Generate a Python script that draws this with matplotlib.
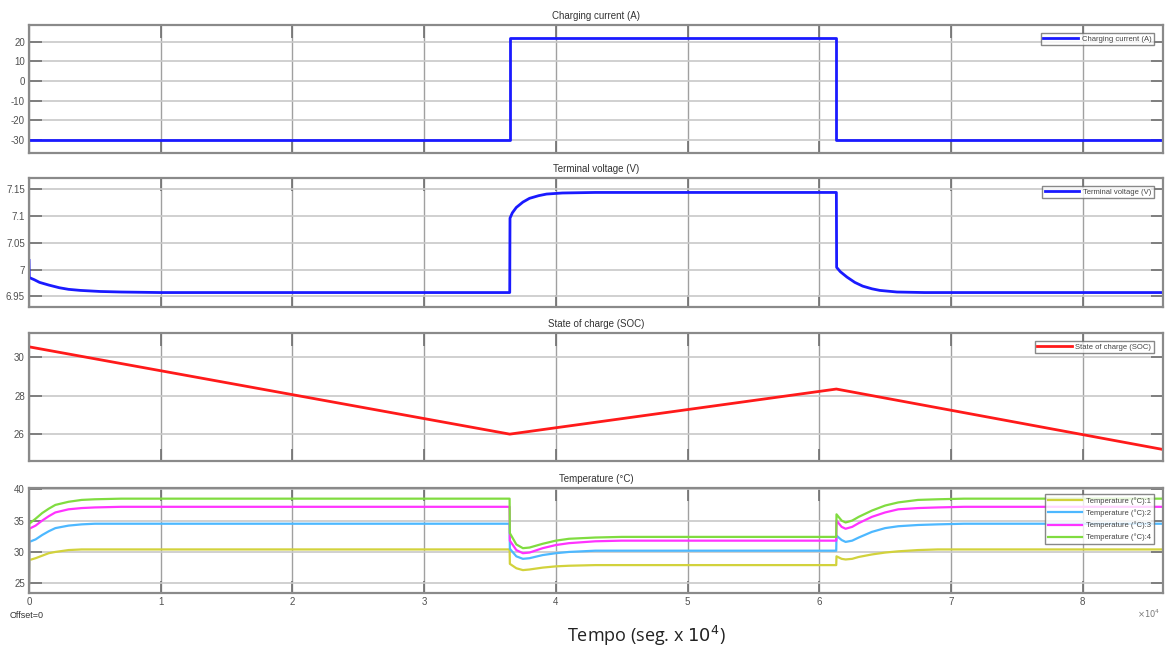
import numpy as np
import matplotlib
matplotlib.use('Agg')
import matplotlib.pyplot as plt

# ── Data (time in units of 10^4 s) ───────────────────────────────────────────
t_cur = [0, 3.65, 3.65, 6.13, 6.13, 8.61]
current = [-30, -30, 22, 22, -30, -30]

t_volt = [0, 0.002, 0.04, 0.08, 0.15, 0.23, 0.3, 0.39, 0.54, 0.7, 1.0,
          3.65, 3.652, 3.67, 3.70, 3.75, 3.80, 3.87, 3.93, 4.05, 4.3,
          6.13, 6.132, 6.16, 6.21, 6.27, 6.33, 6.40, 6.46, 6.59, 6.8, 8.61]
voltage = [7.017, 6.985, 6.981, 6.976, 6.971, 6.966, 6.963, 6.961, 6.959, 6.958, 6.957,
           6.957, 7.096, 7.106, 7.116, 7.126, 7.133, 7.138, 7.141, 7.143, 7.144,
           7.144, 7.004, 6.996, 6.986, 6.976, 6.969, 6.964, 6.961, 6.958, 6.957, 6.957]

t_soc = [0, 3.65, 6.13, 8.61]
soc = [30.55, 26.0, 28.35, 25.2]

t_temp = [0, 0.002, 0.05, 0.1, 0.15, 0.2, 0.3, 0.4, 0.5, 0.7,
          3.649, 3.651, 3.7, 3.75, 3.8, 3.9, 4.0, 4.1, 4.3, 4.5, 4.8,
          6.129, 6.131, 6.17, 6.2, 6.25, 6.3, 6.4, 6.5, 6.6, 6.75, 6.9, 7.1, 8.61]
temp1 = [25, 28.7, 29.0, 29.4, 29.8, 30.0, 30.3, 30.4, 30.4, 30.4,
         30.4, 28.1, 27.4, 27.1, 27.2, 27.5, 27.7, 27.8, 27.9, 27.9, 27.9,
         27.9, 29.3, 28.9, 28.8, 28.9, 29.2, 29.6, 29.9, 30.1, 30.3, 30.4, 30.4, 30.4]
temp2 = [25, 31.6, 32.0, 32.7, 33.3, 33.8, 34.2, 34.4, 34.5, 34.5,
         34.5, 30.5, 29.3, 28.9, 29.0, 29.5, 29.8, 30.0, 30.2, 30.2, 30.2,
         30.2, 32.6, 31.9, 31.6, 31.8, 32.3, 33.2, 33.8, 34.1, 34.3, 34.4, 34.5, 34.5]
temp3 = [25, 33.7, 34.2, 35.0, 35.7, 36.3, 36.8, 37.0, 37.1, 37.2,
         37.2, 31.8, 30.3, 29.8, 29.9, 30.6, 31.1, 31.4, 31.7, 31.8, 31.8,
         31.8, 35.0, 34.0, 33.7, 34.0, 34.6, 35.6, 36.3, 36.8, 37.0, 37.1, 37.2, 37.2]
temp4 = [25, 34.5, 35.3, 36.2, 36.9, 37.5, 38.0, 38.3, 38.4, 38.5,
         38.5, 33.0, 31.2, 30.6, 30.7, 31.3, 31.8, 32.1, 32.3, 32.4, 32.4,
         32.4, 36.0, 35.0, 34.7, 35.0, 35.6, 36.6, 37.4, 37.9, 38.3, 38.4, 38.5, 38.5]

temp_labels = ['Temperature (°C):1', 'Temperature (°C):2',
               'Temperature (°C):3', 'Temperature (°C):4']
temp_colors = ['#d2d23c', '#4db8ff', '#ff33ff', '#80dc40']

x_ticks = [0, 1, 2, 3, 4, 5, 6, 7, 8]

# ── Layout ───────────────────────────────────────────────────────────────────
W, H = 1171, 649
fig = plt.figure(figsize=(W / 100, H / 100), dpi=100)
fig.patch.set_facecolor('white')
plt.rcParams['font.family'] = ['Liberation Sans', 'DejaVu Sans']
plt.rcParams['axes.unicode_minus'] = False

left, right = 29, 1163
boxes = [(25, 153), (178, 307), (333, 461), (488, 593)]  # top, bottom in px
axes = []
for top, bot in boxes:
    ax = fig.add_axes([left / W, 1 - bot / H, (right - left) / W, (bot - top) / H])
    axes.append(ax)

GRID = '#c8c8c8'
SPINE = '#8a8a8a'
TXT = '#505050'


def style(ax, title, yticks, ylim, show_x):
    ax.set_xlim(0, 8.61)
    ax.set_ylim(*ylim)
    ax.set_xticks(x_ticks)
    ax.set_yticks(yticks)
    ax.grid(True, axis='y', color=GRID, lw=1.2)
    ax.grid(True, axis='x', color='#a0a0a0', lw=1.0)
    ax.set_axisbelow(True)
    for s in ax.spines.values():
        s.set_color(SPINE)
        s.set_linewidth(1.6)
    ax.tick_params(direction='in', length=9, width=1.2, color='#707070',
                   labelsize=7, labelcolor=TXT, top=True, right=True, pad=3)
    if not show_x:
        ax.tick_params(labelbottom=False)
    ax.set_title(title, fontsize=7, color='#333333', pad=4)


def legend(ax, spacing=0.25):
    lg = ax.legend(loc='upper right', fontsize=5.5, frameon=True, fancybox=False,
                   edgecolor='#6a6a6a', handlelength=4.5, handletextpad=0.5,
                   borderpad=0.35, labelspacing=spacing, borderaxespad=0.0,
                   bbox_to_anchor=(0.992, 0.94))
    lg.get_frame().set_linewidth(1.0)
    for txt in lg.get_texts():
        txt.set_color('#444444')


# Panel 1: current
ax = axes[0]
ax.plot(t_cur, current, color='#1a1aff', lw=2, label='Charging current (A)')
style(ax, 'Charging current (A)', [-30, -20, -10, 0, 10, 20], (-36.6, 28.5), False)
legend(ax)

# Panel 2: voltage
ax = axes[1]
ax.plot(t_volt, voltage, color='#1a1aff', lw=2, label='Terminal voltage (V)')
style(ax, 'Terminal voltage (V)', [6.95, 7.0, 7.05, 7.1, 7.15], (6.930, 7.171), False)
ax.set_yticklabels(['6.95', '7', '7.05', '7.1', '7.15'])
legend(ax)

# Panel 3: SOC
ax = axes[2]
ax.plot(t_soc, soc, color='#ff1a1a', lw=2, label='State of charge (SOC)')
style(ax, 'State of charge (SOC)', [26, 28, 30], (24.6, 31.27), False)
legend(ax)

# Panel 4: temperatures
ax = axes[3]
for vals, lab, col in zip([temp1, temp2, temp3, temp4], temp_labels, temp_colors):
    ax.plot(t_temp, vals, color=col, lw=1.6, label=lab)
style(ax, 'Temperature (°C)', [25, 30, 35, 40], (23.45, 40.2), True)
legend(ax, spacing=0.6)

fig.text(10 / W, 1 - 615 / H, 'Offset=0', fontsize=6.5, color='#333333',
         va='center', ha='left')
fig.text(1160 / W, 1 - 614 / H, r'$\times10^4$', fontsize=6, color='#777777',
         va='center', ha='right')
fig.text(646 / W, 1 - 636 / H, r'Tempo (seg. x $10^4$)', fontsize=13,
         color='#222222', va='center', ha='center', family=['Open Sans', 'DejaVu Sans'])

fig.savefig('out.png', dpi=100, facecolor='white')
plt.close(fig)
